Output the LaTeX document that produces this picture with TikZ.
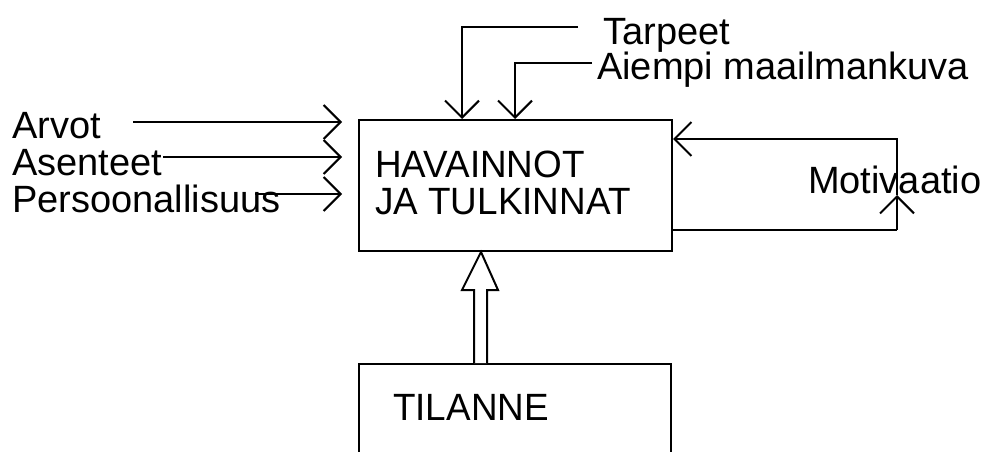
\documentclass[tikz,border=0pt]{standalone}
\usepackage{fontspec}
\setmainfont{Liberation Sans}
\newfontfamily\boxfont[FakeStretch=0.97]{Liberation Sans}
\usetikzlibrary{arrows.meta}
\tikzset{
  lbl/.style={font=\fontsize{38}{44}\selectfont, inner sep=0pt, anchor=base west},
  boxlbl/.style={font=\boxfont\fontsize{38}{44}\selectfont, inner sep=0pt, anchor=base west},
  boxnode/.style={draw, line width=2pt, rectangle, inner sep=0pt},
  arr/.style={line width=2pt, -{Straight Barb[length=17pt,width=34pt,line width=2pt]}},
  ln/.style={line width=2pt}
}
\begin{document}
\begin{tikzpicture}[x=1pt,y=-1pt]
\clip (0,0) rectangle (988,452);
\fill[white] (0,0) rectangle (988,452);
% boxes
\node[boxnode, minimum width=313pt, minimum height=131pt] (main) at (515.5,185.5) {};
\node[boxnode, minimum width=312pt, minimum height=140pt] (tilbox) at (515,434) {};
% texts
\node[boxlbl] (havainnot) at (375,177) {HAVAINNOT};
\node[boxlbl] (tulkinnat) at (375,214) {JA TULKINNAT};
\node[boxlbl] (tilanne) at (393,420) {TILANNE};
\node[lbl] (arvot) at (12,138) {Arvot};
\node[lbl] (asenteet) at (12,175) {Asenteet};
\node[lbl] (persoon) at (12,212) {Persoonallisuus};
\node[lbl] (tarpeet) at (603,45) {Tarpeet};
\node[lbl] (aiempi) at (597,80) {Aiempi maailmankuva};
\node[lbl] (motiv) at (808,193) {Motivaatio};
% left inputs
\coordinate (s1) at (133,122); \coordinate (t1) at (342,122);
\coordinate (s2) at (163,157); \coordinate (t2) at (342,157);
\coordinate (s3) at (255,194); \coordinate (t3) at (342,194);
\draw[arr] (s1) -- (t1);
\draw[arr] (s2) -- (t2);
\draw[arr] (s3) -- (t3);
% top inputs
\coordinate (tp) at (578,27); \coordinate (tpc) at (462,27);
\coordinate (ai) at (592,63); \coordinate (aic) at (515,63);
\draw[arr] (tp) -- (tpc) -- (tpc |- main.north);
\draw[arr] (ai) -- (aic) -- (aic |- main.north);
% motivation loop
\coordinate (m1) at (897,230); \coordinate (mid) at (897,195); \coordinate (m2) at (897,139);
\draw[ln] (main.east |- m1) -- (m1);
\draw[arr] (m1) -- (mid);
\draw[arr] (mid) -- (m2) -- (main.east |- m2);
% hollow arrow from TILANNE to main
\draw[ln, line join=miter, fill=white]
  (474,0 |- tilbox.north) -- (474,290) -- (462,290) -- (481,0 |- main.south)
  -- (498,290) -- (487,290) -- (487,0 |- tilbox.north);
\end{tikzpicture}
\end{document}
